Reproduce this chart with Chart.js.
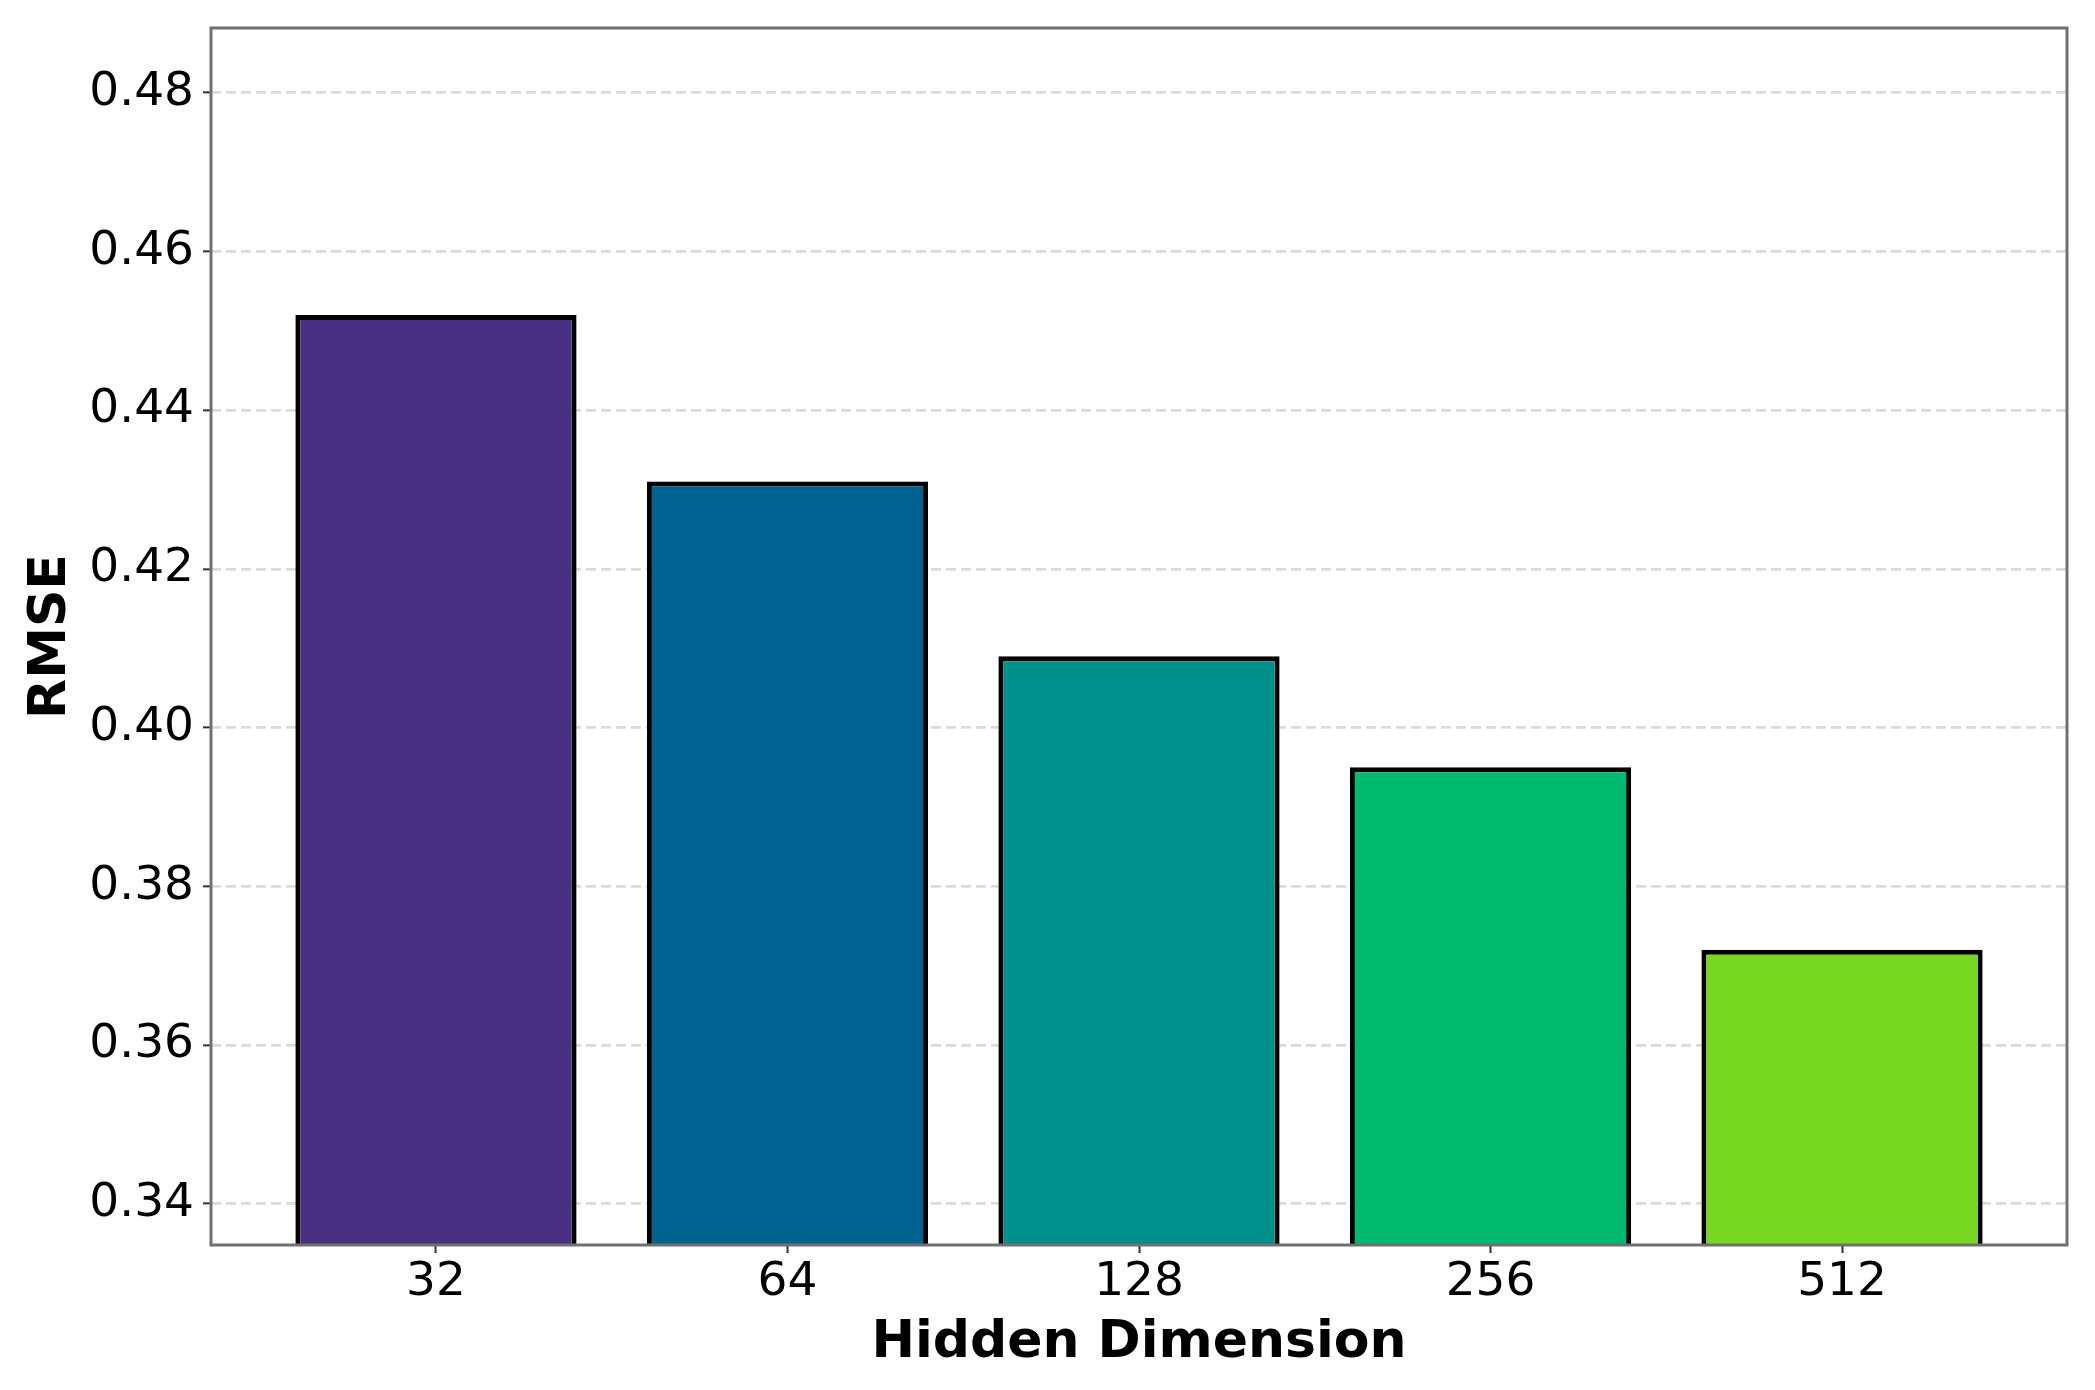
<!DOCTYPE html>
<html>
<head>
<meta charset="utf-8">
<script src="https://cdn.jsdelivr.net/npm/chart.js@4.4.1/dist/chart.umd.min.js"></script>
<style>
  html, body { margin: 0; padding: 0; background: #fff; }
  #grafico { display: block; }
</style>
</head>
<body>
<canvas id="grafico" width="2095" height="1390"></canvas>
<script>
// dados
const categorias = ["32", "64", "128", "256", "512"];
const valoresRMSE = [0.452, 0.431, 0.409, 0.395, 0.372];
const coresBarras = ["#4a3082", "#00628f", "#008f8a", "#00b971", "#78d820"];
const ticksY = [0.34, 0.36, 0.38, 0.40, 0.42, 0.44, 0.46, 0.48];

const fonte = "'DejaVu Sans', sans-serif";

// moldura a volta da area do grafico
const moldura = {
    id: 'moldura',
    afterDraw(chart) {
        const a = chart.chartArea;
        const ctx = chart.ctx;
        ctx.save();
        ctx.strokeStyle = '#707070';
        ctx.lineWidth = 3;
        ctx.strokeRect(a.left, a.top, a.right - a.left, a.bottom - a.top);
        ctx.restore();
    }
};

const ctx = document.getElementById('grafico').getContext('2d');
new Chart(ctx, {
    type: 'bar',
    data: {
        datasets: [{
            label: 'RMSE',
            data: valoresRMSE.map((v, i) => ({ x: i, y: v })),
            backgroundColor: coresBarras,
            borderColor: '#000',
            borderWidth: 5,
            borderSkipped: false,
            categoryPercentage: 1,
            barPercentage: 0.8
        }]
    },
    options: {
        responsive: false,
        animation: false,
        devicePixelRatio: 1,
        layout: { padding: { top: 28, right: 28, left: 0, bottom: 0 } },
        plugins: {
            legend: { display: false },
            tooltip: { enabled: false }
        },
        scales: {
            x: {
                type: 'linear',
                min: -0.64,
                max: 4.64,
                offset: false,
                afterBuildTicks: scale => {
                    scale.ticks = categorias.map((c, i) => ({ value: i }));
                },
                afterFit: scale => {
                    scale.height = 145;
                    scale.paddingLeft = 0;
                    scale.paddingRight = 0;
                },
                grid: {
                    offset: false,
                    drawOnChartArea: false,
                    drawTicks: true,
                    tickLength: 8,
                    tickColor: '#333',
                    tickWidth: 2
                },
                border: { display: false },
                ticks: {
                    autoSkip: false,
                    maxRotation: 0,
                    padding: 2,
                    color: '#000',
                    font: { family: fonte, size: 47 },
                    callback: value => categorias[value]
                },
                title: {
                    display: true,
                    text: 'Hidden Dimension',
                    color: '#000',
                    font: { family: fonte, size: 52, weight: 'bold' },
                    padding: { top: 0, bottom: 15 }
                }
            },
            y: {
                min: 0.3348,
                max: 0.48816,
                z: 1,
                afterBuildTicks: scale => {
                    scale.ticks = ticksY.map(v => ({ value: v }));
                },
                afterFit: scale => {
                    scale.width = 211;
                    scale.paddingTop = 0;
                    scale.paddingBottom = 0;
                },
                grid: {
                    color: 'rgba(176,176,176,0.45)',
                    lineWidth: 2.7,
                    drawTicks: true,
                    tickLength: 8,
                    tickColor: '#333',
                    tickWidth: 2,
                    tickBorderDash: []
                },
                border: { display: false, dash: [10, 5] },
                ticks: {
                    padding: 9,
                    color: '#000',
                    font: { family: fonte, size: 47 },
                    callback: value => value.toFixed(2)
                },
                title: {
                    display: true,
                    text: 'RMSE',
                    color: '#000',
                    font: { family: fonte, size: 52, weight: 'bold' },
                    padding: { top: 20, bottom: 0 }
                }
            }
        }
    },
    plugins: [moldura]
});
</script>
</body>
</html>
